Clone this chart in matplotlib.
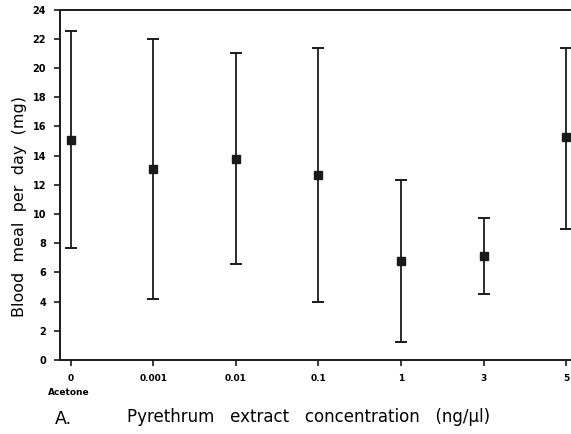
import matplotlib
matplotlib.use("Agg")
import matplotlib.pyplot as plt
import numpy as np

# Concentrations (ng/ul), acetone control first
conc_labels = ["0", "0.001", "0.01", "0.1", "1", "3", "5"]
means = [15.1, 13.1, 13.8, 12.7, 6.8, 7.1, 15.3]
upper = [22.5, 22.0, 21.0, 21.35, 12.3, 9.75, 21.35]
lower = [7.7, 4.2, 6.6, 4.0, 1.2, 4.55, 8.95]

x = np.arange(len(conc_labels))
means = np.array(means)
yerr = np.array([means - np.array(lower), np.array(upper) - means])

fig = plt.figure(figsize=(5.71, 4.34), dpi=100)
ax = fig.add_axes([0.105, 0.1705, 0.895, 0.8074])

ax.errorbar(x, means, yerr=yerr, fmt="s", color="#1a1a1a", markersize=5.5,
            capsize=4, capthick=1.4, elinewidth=1.3)

ax.set_xlim(-0.133, 6.06)
ax.set_ylim(0, 24)
ax.set_yticks(range(0, 25, 2))
ax.set_xticks(x)
ax.set_xticklabels(conc_labels, fontsize=6.5, fontweight="bold")
for lbl in ax.get_yticklabels():
    lbl.set_fontsize(7)
    lbl.set_fontweight("bold")
ax.tick_params(direction="out", length=4, width=1.2, color="#1a1a1a", pad=6)
ax.spines["right"].set_visible(False)
for s in ["left", "top", "bottom"]:
    ax.spines[s].set_linewidth(1.4)
    ax.spines[s].set_color("#1a1a1a")

ax.text(-0.03, -0.094, "Acetone", transform=ax.get_xaxis_transform(), ha="center",
        va="center", fontsize=6.5, fontweight="bold")
fig.text(0.035, 0.525, "Blood  meal  per  day  (mg)", rotation=90, ha="center",
         va="center", fontsize=11.5)
fig.text(0.54, 0.039, "Pyrethrum   extract   concentration   (ng/\u00b5l)", ha="center",
         va="center", fontsize=12)
fig.text(0.096, 0.034, "A.", ha="left", va="center", fontsize=12.5)

fig.savefig("out.png", dpi=100)
